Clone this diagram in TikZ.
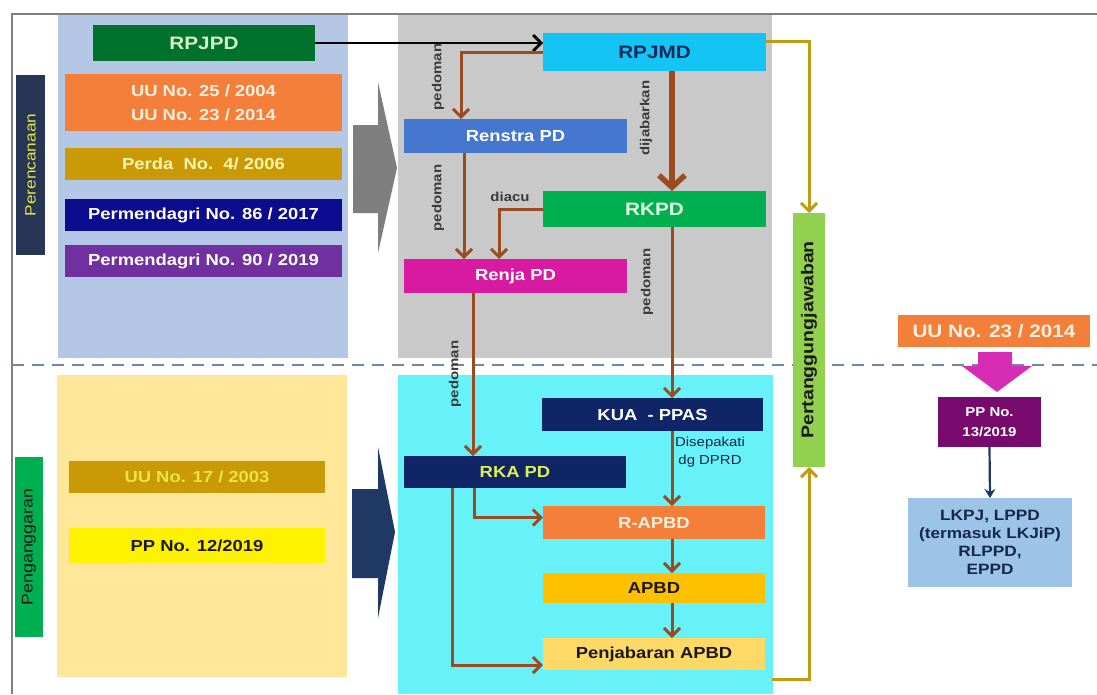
\documentclass[tikz,border=0pt]{standalone}
\usepackage{fontspec}
\setmainfont{Liberation Sans}[FakeStretch=1.15]
\usetikzlibrary{arrows.meta}
\definecolor{panelblue}{HTML}{B4C7E7}
\definecolor{panelgray}{HTML}{C9C9C9}
\definecolor{panelcream}{HTML}{FFE699}
\definecolor{panelcyan}{HTML}{66F2F8}
\definecolor{slate}{HTML}{283655}
\definecolor{labyellow}{HTML}{E6E63C}
\definecolor{grn}{HTML}{00B050}
\definecolor{dgreen}{HTML}{00722E}
\definecolor{lgreentext}{HTML}{D8F0C8}
\definecolor{orng}{HTML}{F47F3A}
\definecolor{orngtext}{HTML}{FFF0E0}
\definecolor{gold}{HTML}{C99A06}
\definecolor{goldtext}{HTML}{FFF3B0}
\definecolor{royal}{HTML}{0C0C8E}
\definecolor{purp}{HTML}{7030A0}
\definecolor{arrgray}{HTML}{7F7F7F}
\definecolor{navy}{HTML}{203864}
\definecolor{sky}{HTML}{14C4F4}
\definecolor{skytext}{HTML}{0A2A5A}
\definecolor{renstra}{HTML}{4677CF}
\definecolor{rkpdtext}{HTML}{E0FFE0}
\definecolor{magen}{HTML}{D81AA0}
\definecolor{brown}{HTML}{9A4B20}
\definecolor{kuanavy}{HTML}{102566}
\definecolor{rkatext}{HTML}{E0F050}
\definecolor{amber}{HTML}{FFC000}
\definecolor{lamber}{HTML}{FFD966}
\definecolor{lime}{HTML}{92D050}
\definecolor{goldline}{HTML}{C49A10}
\definecolor{pink}{HTML}{D62CB4}
\definecolor{plum}{HTML}{780A6E}
\definecolor{lblue}{HTML}{9DC3E6}
\definecolor{lbtext}{HTML}{14284B}
\definecolor{dashcol}{HTML}{6F86B0}
\definecolor{frame}{HTML}{7F7F7F}
\definecolor{labtext}{HTML}{3A3A3A}
\definecolor{dark}{HTML}{1A1A1A}
\begin{document}
\begin{tikzpicture}[x=1pt,y=-1pt,
  box/.style={inner sep=0pt, outer sep=0pt, align=center, draw=none,
    font=\bfseries\fontsize{16}{19}\selectfont},
  bigbox/.style={box, font=\bfseries\fontsize{18}{21}\selectfont},
  lbl/.style={inner sep=0pt, text=labtext, font=\bfseries\fontsize{13}{16}\selectfont},
  brA/.style={draw=brown, line width=3pt, -{Straight Barb[length=8pt,width=16pt]}},
  brB/.style={draw=brown, line width=5.5pt, -{Straight Barb[length=12pt,width=26pt]}},
  goldA/.style={draw=goldline, line width=3pt, -{Straight Barb[length=8pt,width=16pt]}},
  blkA/.style={draw=black, line width=2.8pt, -{Straight Barb[length=8pt,width=16pt]}},
  navA/.style={draw=navy, line width=2.2pt, -{Stealth[length=9pt,width=11pt]}}]
\useasboundingbox (0,0) rectangle (1097,694);
\fill[white] (0,0) rectangle (1097,694);
% panels
\fill[panelblue] (58,15) rectangle (348,358);
\fill[panelgray] (398,15) rectangle (772,358);
\fill[panelcream] (57,375) rectangle (347,677);
\fill[panelcyan] (398,375) rectangle (773,694);
% frame
\draw[frame, line width=2pt] (12,694) -- (12,14) -- (1097,14);
% dashed divider
\draw[dashcol, line width=2pt, dash pattern=on 12pt off 8pt] (12,365) -- (1097,365);
% big arrows
\fill[arrgray] (353,125) -- (378,125) -- (378,82) -- (397,168) -- (378,253) -- (378,213) -- (353,213) -- cycle;
\fill[navy] (352,489) -- (378,489) -- (378,447) -- (395,532) -- (378,618) -- (378,578) -- (352,578) -- cycle;
\fill[pink] (978,352) -- (1012,352) -- (1012,366) -- (1032,366) -- (997,392) -- (962,366) -- (978,366) -- cycle;
% side labels
\node[box, fill=slate, minimum width=29pt, minimum height=180pt] (perenc) at (30.5,165) {};
\node[rotate=90, text=labyellow, font=\fontsize{15}{18}\selectfont, inner sep=0pt] (perenctext) at (perenc.center) {Perencanaan};
\node[box, fill=grn, minimum width=28pt, minimum height=180pt] (pengg) at (29,547) {};
\node[rotate=90, text=dark, font=\fontsize{15.5}{18}\selectfont, inner sep=0pt] (penggtext) at (pengg.center) {Penganggaran};
% left column
\node[bigbox, fill=dgreen, text=lgreentext, minimum width=222pt, minimum height=36pt] (rpjpd) at (204,43) {RPJPD};
\node[box, fill=orng, text=orngtext, minimum width=277pt, minimum height=57pt, font=\bfseries\fontsize{16}{24}\selectfont] (uu) at (203.5,102.5) {UU No. 25 / 2004\\UU No. 23 / 2014};
\node[box, fill=gold, text=goldtext, minimum width=277pt, minimum height=32pt] (perda) at (203.5,164) {Perda\ \ No.\ \ 4/ 2006};
\node[box, fill=royal, text=white, minimum width=277pt, minimum height=32pt] (p86) at (203.5,215) {Permendagri No. 86 / 2017};
\node[box, fill=purp, text=white, minimum width=277pt, minimum height=32pt] (p90) at (203.5,261) {Permendagri No. 90 / 2019};
\node[box, fill=gold, text=labyellow, minimum width=256pt, minimum height=32pt] (uu17) at (197,477) {UU No. 17 / 2003};
\node[box, fill=yellow, text=dark, minimum width=256pt, minimum height=35pt] (pp12) at (197,545.5) {PP No. 12/2019};
% planning column
\node[bigbox, fill=sky, text=skytext, minimum width=223pt, minimum height=38pt] (rpjmd) at (654.5,52) {RPJMD};
\node[box, fill=renstra, text=white, minimum width=223pt, minimum height=34pt] (renstrapd) at (515.5,136) {Renstra PD};
\node[bigbox, fill=grn, text=rkpdtext, minimum width=223pt, minimum height=36pt] (rkpd) at (654.5,209) {RKPD};
\node[box, fill=magen, text=white, minimum width=223pt, minimum height=34pt] (renja) at (515.5,276) {Renja PD};
% budgeting column
\node[box, fill=kuanavy, text=white, minimum width=221pt, minimum height=33pt] (kua) at (652.5,414.5) {KUA\ \ - PPAS};
\node[box, fill=kuanavy, text=rkatext, minimum width=222pt, minimum height=32pt] (rkapd) at (515,472) {RKA PD};
\node[box, fill=orng, text=orngtext, minimum width=222pt, minimum height=33pt] (rapbd) at (654,522.5) {R-APBD};
\node[box, fill=amber, text=dark, minimum width=222pt, minimum height=30pt] (apbd) at (654,588) {APBD};
\node[box, fill=lamber, text=dark, minimum width=222pt, minimum height=32pt] (penj) at (654,654) {Penjabaran APBD};
% accountability
\node[box, fill=lime, minimum width=32pt, minimum height=254pt] (pj) at (809,340) {};
\node[rotate=90, text=dark, font=\bfseries\fontsize{17}{20}\selectfont, inner sep=0pt] (pjtext) at (pj.center) {Pertanggungjawaban};
% right column
\node[bigbox, fill=orng, text=orngtext, minimum width=192pt, minimum height=32pt] (uu23) at (994,331) {UU No. 23 / 2014};
\node[box, fill=plum, text=white, minimum width=103pt, minimum height=50pt, font=\bfseries\fontsize{13}{20}\selectfont] (pp13) at (989.5,422) {PP No.\\13/2019};
\node[box, fill=lblue, text=lbtext, minimum width=164pt, minimum height=89pt, font=\bfseries\fontsize{15}{18}\selectfont] (lkpj) at (990,542.5) {LKPJ, LPPD\\(termasuk LKJiP)\\RLPPD,\\EPPD};
% column coordinates
\coordinate (xa) at (461,0);
\coordinate (xb) at (464,0);
\coordinate (xc) at (499,0);
\coordinate (xd) at (672,0);
\coordinate (xe) at (473,0);
\coordinate (xf) at (474,0);
\coordinate (xg) at (452,0);
\coordinate (gs) at (772,679);
% connectors
\draw[blkA] (rpjpd.east) -- (rpjpd.east -| rpjmd.west);
\draw[brA] (rpjmd.west) -| (xa |- renstrapd.north);
\draw[brA] (xb |- renstrapd.south) -- (xb |- renja.north);
\draw[brA] (rkpd.west) -| (xc |- renja.north);
\draw[brB] (xd |- rpjmd.south) -- (xd |- rkpd.north);
\draw[brA] (xd |- rkpd.south) -- (xd |- kua.north);
\draw[brA] (xe |- renja.south) -- (xe |- rkapd.north);
\draw[brA] (xd |- kua.south) -- (xd |- rapbd.north);
\draw[brA] (xf |- rkapd.south) |- ([yshift=5pt]rapbd.west);
\draw[brA] (xd |- rapbd.south) -- (xd |- apbd.north);
\draw[brA] (xd |- apbd.south) -- (xd |- penj.north);
\draw[brA] (xg |- rkapd.south) |- ([yshift=-11pt]penj.west);
\draw[goldA] ([yshift=11pt]rpjmd.east) -| (pj.north);
\draw[goldA] (gs) -| (pj.south);
\draw[navA] (pp13.south) -- (lkpj.north);
% connector labels
\node[lbl, rotate=90] (l1) at (438,77) {pedoman};
\node[lbl, rotate=90] (l2) at (438,198) {pedoman};
\node[lbl] (l3) at (510,197) {diacu};
\node[lbl, rotate=90] (l4) at (646,118) {dijabarkan};
\node[lbl, rotate=90] (l5) at (647,282) {pedoman};
\node[lbl, rotate=90] (l6) at (455,374) {pedoman};
\node[inner sep=0pt, align=center, text=lbtext, font=\fontsize{13}{18}\selectfont] (l7) at (710,452) {Disepakati\\dg DPRD};
\end{tikzpicture}
\end{document}
